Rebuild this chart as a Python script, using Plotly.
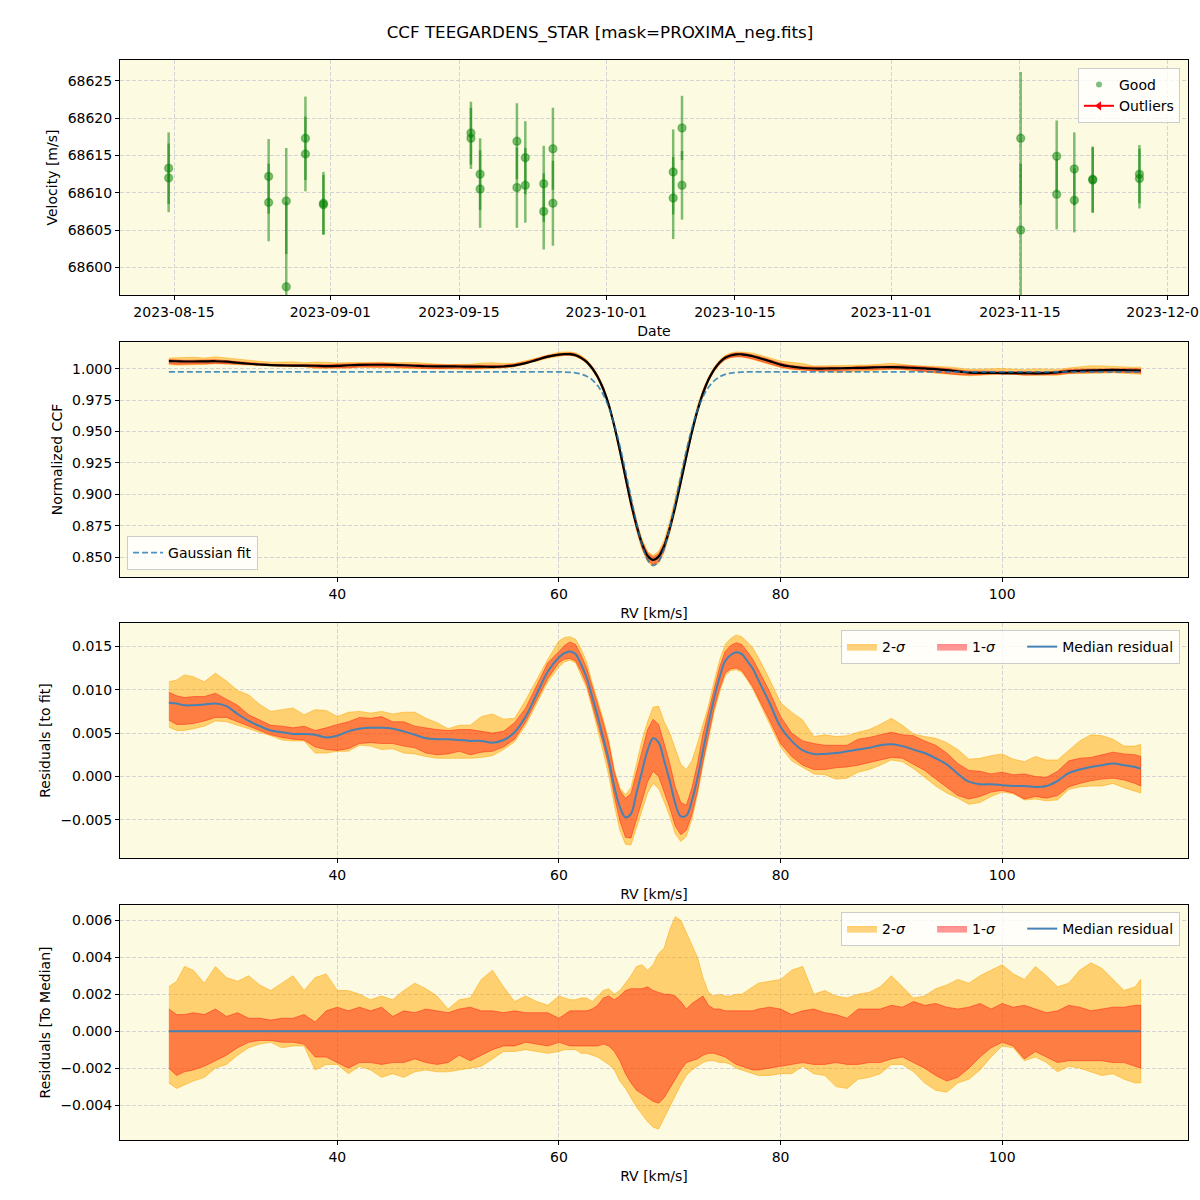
import plotly.graph_objects as go

TITLE = "CCF TEEGARDENS_STAR [mask=PROXIMA_neg.fits]"

# ---------------- Panel 1: RV time series ----------------
obs_dates = [
    "2023-08-14 10:00", "2023-08-14 10:00",
    "2023-08-25 07:00", "2023-08-25 07:00",
    "2023-08-27 05:00", "2023-08-27 05:00",
    "2023-08-29 07:00", "2023-08-29 07:00",
    "2023-08-31 06:00", "2023-08-31 06:00",
    "2023-09-16 07:00", "2023-09-16 07:00",
    "2023-09-17 07:00", "2023-09-17 07:00",
    "2023-09-21 07:00", "2023-09-21 07:00",
    "2023-09-22 05:00", "2023-09-22 05:00",
    "2023-09-24 05:00", "2023-09-24 05:00",
    "2023-09-25 05:00", "2023-09-25 05:00",
    "2023-10-08 07:00", "2023-10-08 07:00",
    "2023-10-09 06:00", "2023-10-09 06:00",
    "2023-11-15 02:00", "2023-11-15 02:00",
    "2023-11-19 00:00", "2023-11-19 00:00",
    "2023-11-20 22:00", "2023-11-20 22:00",
    "2023-11-22 22:00", "2023-11-22 22:00",
    "2023-11-28 00:00", "2023-11-28 00:00",
]
velocity = [
    68613.3, 68612.0,
    68612.2, 68608.7,
    68608.9, 68597.4,
    68617.3, 68615.2,
    68608.6, 68608.4,
    68618.0, 68617.3,
    68612.5, 68610.5,
    68616.9, 68610.7,
    68614.7, 68611.0,
    68611.2, 68607.5,
    68615.9, 68608.6,
    68612.8, 68609.3,
    68618.7, 68611.0,
    68617.3, 68605.0,
    68614.9, 68609.8,
    68613.2, 68609.0,
    68611.8, 68611.7,
    68612.5, 68611.9,
]
velocity_err = [
    4.8, 4.6,
    5.0, 5.2,
    7.1, 11.4,
    5.6, 5.0,
    4.2, 4.0,
    4.2, 4.1,
    4.8, 5.2,
    5.1, 5.4,
    4.9, 5.0,
    5.1, 5.1,
    5.5, 5.7,
    5.7, 5.5,
    4.3, 4.6,
    8.9, 8.9,
    4.8, 4.7,
    4.9, 4.3,
    4.4, 4.4,
    3.9, 4.0,
]
date_ticks = ["2023-08-15", "2023-09-01", "2023-09-15", "2023-10-01",
              "2023-10-15", "2023-11-01", "2023-11-15", "2023-12-01"]
vel_ticks = [68600, 68605, 68610, 68615, 68620, 68625]

# ---------------- CCF panels ----------------
rv_grid = [
    24.8, 25.5, 26.2, 27, 28, 29, 30, 31, 32, 33, 34, 35, 36, 37, 38, 39,
    40, 41, 42, 43, 44, 45, 46, 47, 48, 49, 50, 51, 52, 53, 54, 55, 56, 57,
    58, 59, 60,
    60.5, 61, 61.5, 62, 62.5, 63, 63.5, 64, 64.5, 65, 65.5, 66, 66.5, 67,
    67.5, 68, 68.5, 69, 69.5, 70, 70.5, 71, 71.5, 72, 72.5, 73, 73.5, 74,
    74.5, 75, 75.5, 76, 76.5, 77, 77.5, 78,
    79, 80, 81, 82, 83, 84, 85, 86, 87, 88, 89, 90, 91, 92, 93, 94, 95, 96,
    97, 98, 99, 100, 101, 102, 103, 104, 105, 106, 107, 108, 109, 110, 111,
    112, 112.5,
]
gauss_fit = [
    0.9975, 0.9975, 0.9975, 0.9975, 0.9975, 0.9975, 0.9975, 0.9975, 0.9975,
    0.9975, 0.9975, 0.9975, 0.9975, 0.9975, 0.9975, 0.9975, 0.9975, 0.9975,
    0.9975, 0.9975, 0.9975, 0.9975, 0.9975, 0.9975, 0.9975, 0.9975, 0.9975,
    0.9975, 0.9975, 0.9975, 0.9975, 0.9975, 0.9975, 0.9975, 0.9975, 0.9975,
    0.9974,
    0.9973, 0.9971, 0.9966, 0.9957, 0.9940, 0.9911, 0.9864, 0.9794, 0.9692,
    0.9556, 0.9386, 0.9188, 0.8977, 0.8774, 0.8601, 0.8482, 0.8435, 0.8467,
    0.8572, 0.8736, 0.8935, 0.9147, 0.9348, 0.9525, 0.9668, 0.9776, 0.9852,
    0.9903, 0.9935, 0.9954, 0.9965, 0.9970, 0.9973, 0.9974, 0.9975, 0.9975,
    0.9975, 0.9975, 0.9975, 0.9975, 0.9975, 0.9975, 0.9975, 0.9975, 0.9975,
    0.9975, 0.9975, 0.9975, 0.9975, 0.9975, 0.9975, 0.9975, 0.9975, 0.9975,
    0.9975, 0.9975, 0.9975, 0.9975, 0.9975, 0.9975, 0.9975, 0.9975, 0.9975,
    0.9975, 0.9975, 0.9975, 0.9975, 0.9975, 0.9975, 0.9975, 0.9975,
]
median_resid = [
    0.0085, 0.0084, 0.0082, 0.0082, 0.0083, 0.0084, 0.0081, 0.0072, 0.0064,
    0.0058, 0.0053, 0.0051, 0.0049, 0.0049, 0.0048, 0.0045, 0.0047, 0.0052,
    0.0055, 0.0056, 0.0056, 0.0055, 0.0052, 0.0048, 0.0044, 0.0043, 0.0043,
    0.0042, 0.0041, 0.0041, 0.0039, 0.0042, 0.0051, 0.0069, 0.0095, 0.0121,
    0.0137,
    0.0142, 0.0144, 0.0141, 0.0129, 0.0114, 0.0092, 0.0069, 0.0044, 0.0019,
    -0.0012, -0.0035, -0.0047, -0.0043, -0.0019, 0.0006, 0.0030, 0.0044,
    0.0039, 0.0018, -0.0005, -0.0031, -0.0046, -0.0045, -0.0028, -0.0002,
    0.0030, 0.0061, 0.0090, 0.0114, 0.0133, 0.0140, 0.0143, 0.0141, 0.0133,
    0.0124, 0.0111,
    0.0085, 0.0057, 0.0041, 0.0030, 0.0026, 0.0026, 0.0027, 0.0029, 0.0031,
    0.0033, 0.0036, 0.0037, 0.0035, 0.0031, 0.0027, 0.0021, 0.0014, 0.0003,
    -0.0006, -0.0009, -0.0009, -0.0010, -0.0011, -0.0011, -0.0012, -0.0011,
    -0.0005, 0.0004, 0.0008, 0.0011, 0.0013, 0.0015, 0.0013, 0.0011, 0.0009,
]
# spreads about the median (97.5 / 84 / 16 / 2.5 percentile minus median)
spread_2hi = [
    0.0024, 0.0027, 0.0035, 0.0033, 0.0026, 0.0035, 0.0029, 0.0027, 0.0030,
    0.0025, 0.0022, 0.0026, 0.0030, 0.0022, 0.0029, 0.0031, 0.0022, 0.0022,
    0.0020, 0.0017, 0.0019, 0.0017, 0.0022, 0.0026, 0.0023, 0.0019, 0.0012,
    0.0017, 0.0018, 0.0028, 0.0033, 0.0024, 0.0016, 0.0019, 0.0016, 0.0014,
    0.0019,
    0.0018, 0.0017, 0.0017, 0.0018, 0.0018, 0.0016, 0.0019, 0.0022, 0.0023,
    0.0020, 0.0022, 0.0026, 0.0030, 0.0035, 0.0036, 0.0033, 0.0036, 0.0042,
    0.0045, 0.0055, 0.0062, 0.0060, 0.0053, 0.0046, 0.0040, 0.0029, 0.0021,
    0.0019, 0.0020, 0.0019, 0.0019, 0.0020, 0.0020, 0.0022, 0.0024, 0.0026,
    0.0027, 0.0028, 0.0033, 0.0035, 0.0020, 0.0022, 0.0019, 0.0018, 0.0020,
    0.0021, 0.0024, 0.0030, 0.0024, 0.0018, 0.0019, 0.0023, 0.0025, 0.0028,
    0.0026, 0.0030, 0.0033, 0.0036, 0.0031, 0.0028, 0.0035, 0.0030, 0.0024,
    0.0026, 0.0033, 0.0037, 0.0034, 0.0028, 0.0022, 0.0024, 0.0028,
]
spread_1hi = [
    0.0012, 0.0009, 0.0009, 0.0010, 0.0009, 0.0012, 0.0008, 0.0010, 0.0007,
    0.0007, 0.0006, 0.0007, 0.0007, 0.0009, 0.0005, 0.0011, 0.0013, 0.0011,
    0.0013, 0.0011, 0.0013, 0.0008, 0.0011, 0.0010, 0.0012, 0.0011, 0.0010,
    0.0012, 0.0013, 0.0011, 0.0011, 0.0010, 0.0011, 0.0010, 0.0010, 0.0010,
    0.0007,
    0.0009, 0.0011, 0.0011, 0.0011, 0.0011, 0.0012, 0.0014, 0.0018, 0.0019,
    0.0017, 0.0019, 0.0022, 0.0023, 0.0023, 0.0023, 0.0024, 0.0022, 0.0021,
    0.0020, 0.0020, 0.0019, 0.0016, 0.0012, 0.0015, 0.0017, 0.0019, 0.0014,
    0.0012, 0.0012, 0.0011, 0.0011, 0.0011, 0.0011, 0.0011, 0.0011, 0.0012,
    0.0013, 0.0012, 0.0009, 0.0011, 0.0012, 0.0010, 0.0009, 0.0007, 0.0012,
    0.0012, 0.0012, 0.0014, 0.0013, 0.0016, 0.0014, 0.0015, 0.0013, 0.0012,
    0.0013, 0.0015, 0.0012, 0.0015, 0.0013, 0.0014, 0.0012, 0.0010, 0.0011,
    0.0014, 0.0013, 0.0011, 0.0012, 0.0013, 0.0013, 0.0014, 0.0014,
]
spread_1lo = [
    -0.0020, -0.0024, -0.0022, -0.0021, -0.0019, -0.0016, -0.0013, -0.0009,
    -0.0006, -0.0005, -0.0005, -0.0006, -0.0006, -0.0007, -0.0014, -0.0014,
    -0.0017, -0.0020, -0.0017, -0.0017, -0.0018, -0.0017, -0.0017, -0.0015,
    -0.0017, -0.0018, -0.0017, -0.0013, -0.0016, -0.0013, -0.0010, -0.0008,
    -0.0008, -0.0006, -0.0007, -0.0008, -0.0006,
    -0.0007, -0.0008, -0.0008, -0.0008, -0.0008, -0.0008, -0.0008, -0.0007,
    -0.0008, -0.0011, -0.0016, -0.0023, -0.0028, -0.0032, -0.0034, -0.0036,
    -0.0038, -0.0039, -0.0036, -0.0031, -0.0026, -0.0021, -0.0017, -0.0016,
    -0.0015, -0.0013, -0.0012, -0.0012, -0.0013, -0.0014, -0.0016, -0.0018,
    -0.0019, -0.0020, -0.0021, -0.0021,
    -0.0020, -0.0019, -0.0018, -0.0017, -0.0018, -0.0018, -0.0017, -0.0018,
    -0.0018, -0.0017, -0.0017, -0.0015, -0.0014, -0.0017, -0.0020, -0.0024,
    -0.0027, -0.0025, -0.0020, -0.0014, -0.0009, -0.0006, -0.0008, -0.0015,
    -0.0011, -0.0014, -0.0017, -0.0016, -0.0016, -0.0016, -0.0016, -0.0017,
    -0.0017, -0.0019, -0.0020,
]
spread_2lo = [
    -0.0028, -0.0031, -0.0029, -0.0027, -0.0025, -0.0020, -0.0018, -0.0013,
    -0.0009, -0.0007, -0.0006, -0.0009, -0.0008, -0.0008, -0.0021, -0.0018,
    -0.0018, -0.0023, -0.0019, -0.0021, -0.0025, -0.0023, -0.0025, -0.0022,
    -0.0021, -0.0022, -0.0022, -0.0021, -0.0020, -0.0019, -0.0015, -0.0011,
    -0.0011, -0.0010, -0.0011, -0.0012, -0.0011,
    -0.0010, -0.0010, -0.0010, -0.0012, -0.0012, -0.0013, -0.0014, -0.0016,
    -0.0018, -0.0021, -0.0027, -0.0031, -0.0036, -0.0041, -0.0045, -0.0049,
    -0.0052, -0.0053, -0.0047, -0.0041, -0.0035, -0.0029, -0.0024, -0.0021,
    -0.0019, -0.0017, -0.0016, -0.0016, -0.0017, -0.0017, -0.0018, -0.0020,
    -0.0021, -0.0022, -0.0023, -0.0024,
    -0.0024, -0.0023, -0.0023, -0.0019, -0.0023, -0.0024, -0.0030, -0.0031,
    -0.0026, -0.0025, -0.0023, -0.0018, -0.0018, -0.0022, -0.0028, -0.0032,
    -0.0033, -0.0028, -0.0026, -0.0021, -0.0014, -0.0008, -0.0009, -0.0016,
    -0.0014, -0.0017, -0.0022, -0.0019, -0.0020, -0.0022, -0.0024, -0.0023,
    -0.0026, -0.0028, -0.0028,
]
rv_ticks = [40, 60, 80, 100]
ccf_ticks = [0.850, 0.875, 0.900, 0.925, 0.950, 0.975, 1.000]
res_ticks = [-0.005, 0.000, 0.005, 0.010, 0.015]
med_ticks = [-0.004, -0.002, 0.000, 0.002, 0.004, 0.006]

# ---------------- derived series ----------------
ccf_median = [g + m for g, m in zip(gauss_fit, median_resid)]


def shifted(base, spread):
    return [b + s for b, s in zip(base, spread)]


def polygon(x, lo, hi):
    return list(x) + list(x)[::-1], list(hi) + list(lo)[::-1]


FONT = "DejaVu Sans, Arial, sans-serif"
FS = 14
ORANGE = "rgba(255,165,0,0.5)"
RED = "rgba(255,0,0,0.4)"
BLUE = "#4682b4"
BG = "#fcfae1"
GRID = "#d3d3d3"
PAD = "\u00a0" * 5

fig = go.Figure()

# Panel 1
fig.add_trace(go.Scatter(
    x=obs_dates, y=velocity, mode="markers", showlegend=False,
    marker=dict(size=8, color="rgba(0,128,0,0.5)",
                line=dict(width=1.5, color="rgba(0,128,0,0.35)")),
    error_y=dict(type="data", array=velocity_err, color="rgba(0,128,0,0.5)",
                 thickness=2.5, width=0),
    xaxis="x", yaxis="y"))
fig.add_trace(go.Scatter(
    x=[None], y=[None], mode="markers", name="Good",
    marker=dict(size=6, color="rgba(0,128,0,0.5)"),
    xaxis="x", yaxis="y", legend="legend"))
fig.add_trace(go.Scatter(
    x=[None], y=[None], mode="lines+markers", name="Outliers",
    line=dict(color="red", width=2),
    marker=dict(symbol="triangle-left", size=8, color="red"),
    xaxis="x", yaxis="y", legend="legend"))

# Panel 2
px, py = polygon(rv_grid, shifted(ccf_median, spread_2lo), shifted(ccf_median, spread_2hi))
fig.add_trace(go.Scatter(x=px, y=py, fill="toself", fillcolor=ORANGE, mode="lines",
                         line=dict(color=ORANGE, width=1), showlegend=False,
                         xaxis="x2", yaxis="y2"))
px, py = polygon(rv_grid, shifted(ccf_median, spread_1lo), shifted(ccf_median, spread_1hi))
fig.add_trace(go.Scatter(x=px, y=py, fill="toself", fillcolor=RED, mode="lines",
                         line=dict(color=RED, width=1), showlegend=False,
                         xaxis="x2", yaxis="y2"))
fig.add_trace(go.Scatter(x=rv_grid, y=ccf_median, mode="lines", showlegend=False,
                         line=dict(color="black", width=2.2, shape="spline"),
                         xaxis="x2", yaxis="y2"))
fig.add_trace(go.Scatter(x=rv_grid, y=gauss_fit, mode="lines", name="Gaussian fit",
                         line=dict(color="rgba(31,119,180,0.8)", width=1.8,
                                   dash="6px,3px", shape="spline"),
                         xaxis="x2", yaxis="y2", legend="legend2"))

# Panels 3 and 4
for base, xa, ya, lg in [(median_resid, "x3", "y3", "legend3"),
                         ([m - m for m in median_resid], "x4", "y4", "legend4")]:
    px, py = polygon(rv_grid, shifted(base, spread_2lo), shifted(base, spread_2hi))
    fig.add_trace(go.Scatter(x=px, y=py, fill="toself", fillcolor=ORANGE, mode="lines",
                             line=dict(color=ORANGE, width=1), name="2-<i>σ</i>" + PAD,
                             xaxis=xa, yaxis=ya, legend=lg))
    px, py = polygon(rv_grid, shifted(base, spread_1lo), shifted(base, spread_1hi))
    fig.add_trace(go.Scatter(x=px, y=py, fill="toself", fillcolor=RED, mode="lines",
                             line=dict(color=RED, width=1), name="1-<i>σ</i>" + PAD,
                             xaxis=xa, yaxis=ya, legend=lg))
    fig.add_trace(go.Scatter(x=rv_grid, y=base, mode="lines", name="Median residual",
                             line=dict(color=BLUE, width=2, shape="spline"),
                             xaxis=xa, yaxis=ya, legend=lg))

axis_common = dict(showline=True, linecolor="black", linewidth=1, mirror=True,
                   ticks="outside", ticklen=4, tickcolor="black", tickwidth=1,
                   showgrid=True, gridcolor=GRID, griddash="4px,2px", gridwidth=1,
                   zeroline=False, automargin=False,
                   tickfont=dict(size=FS, color="black", family=FONT))


def xax(**kw):
    d = dict(axis_common)
    d.update(kw)
    return d


legend_common = dict(bgcolor="rgba(255,255,255,0.8)", bordercolor="#cccccc",
                     borderwidth=1, font=dict(size=FS, color="black", family=FONT))

YSTAND = 6

fig.update_layout(
    width=1200, height=1200,
    margin=dict(l=120, r=12, t=60, b=60, autoexpand=False),
    paper_bgcolor="white", plot_bgcolor=BG,
    font=dict(family=FONT, size=FS, color="black"),
    title=dict(text=TITLE, x=0.5, xref="container", xanchor="center",
               y=1 - 32 / 1200, yref="container", yanchor="middle",
               font=dict(size=16.7, color="black", family=FONT)),
    xaxis=xax(domain=[0, 1], anchor="y", type="date",
              range=["2023-08-09 03:00", "2023-12-03 06:45"],
              tickvals=date_ticks, tickformat="%Y-%m-%d", ticklabeloverflow="allow",
              title=dict(text="Date", standoff=7, font=dict(size=FS))),
    yaxis=xax(domain=[0.7824, 1.0], anchor="x", range=[68596.3, 68627.8],
              tickvals=vel_ticks, tickformat="d",
              title=dict(text="Velocity [m/s]", standoff=YSTAND, font=dict(size=FS))),
    xaxis2=xax(domain=[0, 1], anchor="y2", range=[20.39, 116.77], tickvals=rv_ticks,
               title=dict(text="RV [km/s]", standoff=7, font=dict(size=FS))),
    yaxis2=xax(domain=[0.5213, 0.7389], anchor="x2", range=[0.8343, 1.0212],
               tickvals=ccf_ticks, tickformat=".3f",
               title=dict(text="Normalized CCF", standoff=YSTAND, font=dict(size=FS))),
    xaxis3=xax(domain=[0, 1], anchor="y3", range=[20.39, 116.77], tickvals=rv_ticks,
               title=dict(text="RV [km/s]", standoff=7, font=dict(size=FS))),
    yaxis3=xax(domain=[0.2611, 0.4787], anchor="x3", range=[-0.00939, 0.01768],
               tickvals=res_ticks, tickformat=".3f",
               title=dict(text="Residuals [to fit]", standoff=YSTAND, font=dict(size=FS))),
    xaxis4=xax(domain=[0, 1], anchor="y4", range=[20.39, 116.77], tickvals=rv_ticks,
               title=dict(text="RV [km/s]", standoff=7, font=dict(size=FS))),
    yaxis4=xax(domain=[0, 0.2176], anchor="x4", range=[-0.00589, 0.00683],
               tickvals=med_ticks, tickformat=".3f",
               title=dict(text="Residuals [To Median]", standoff=YSTAND, font=dict(size=FS))),
    legend=dict(legend_common, x=0.9925, y=0.9926, xanchor="right", yanchor="top"),
    legend2=dict(legend_common, x=0.0066, y=0.5278, xanchor="left", yanchor="bottom"),
    legend3=dict(legend_common, x=0.9925, y=0.4722, xanchor="right", yanchor="top",
                 orientation="h"),
    legend4=dict(legend_common, x=0.9925, y=0.2111, xanchor="right", yanchor="top",
                 orientation="h"),
)

fig.write_html("out.html")
